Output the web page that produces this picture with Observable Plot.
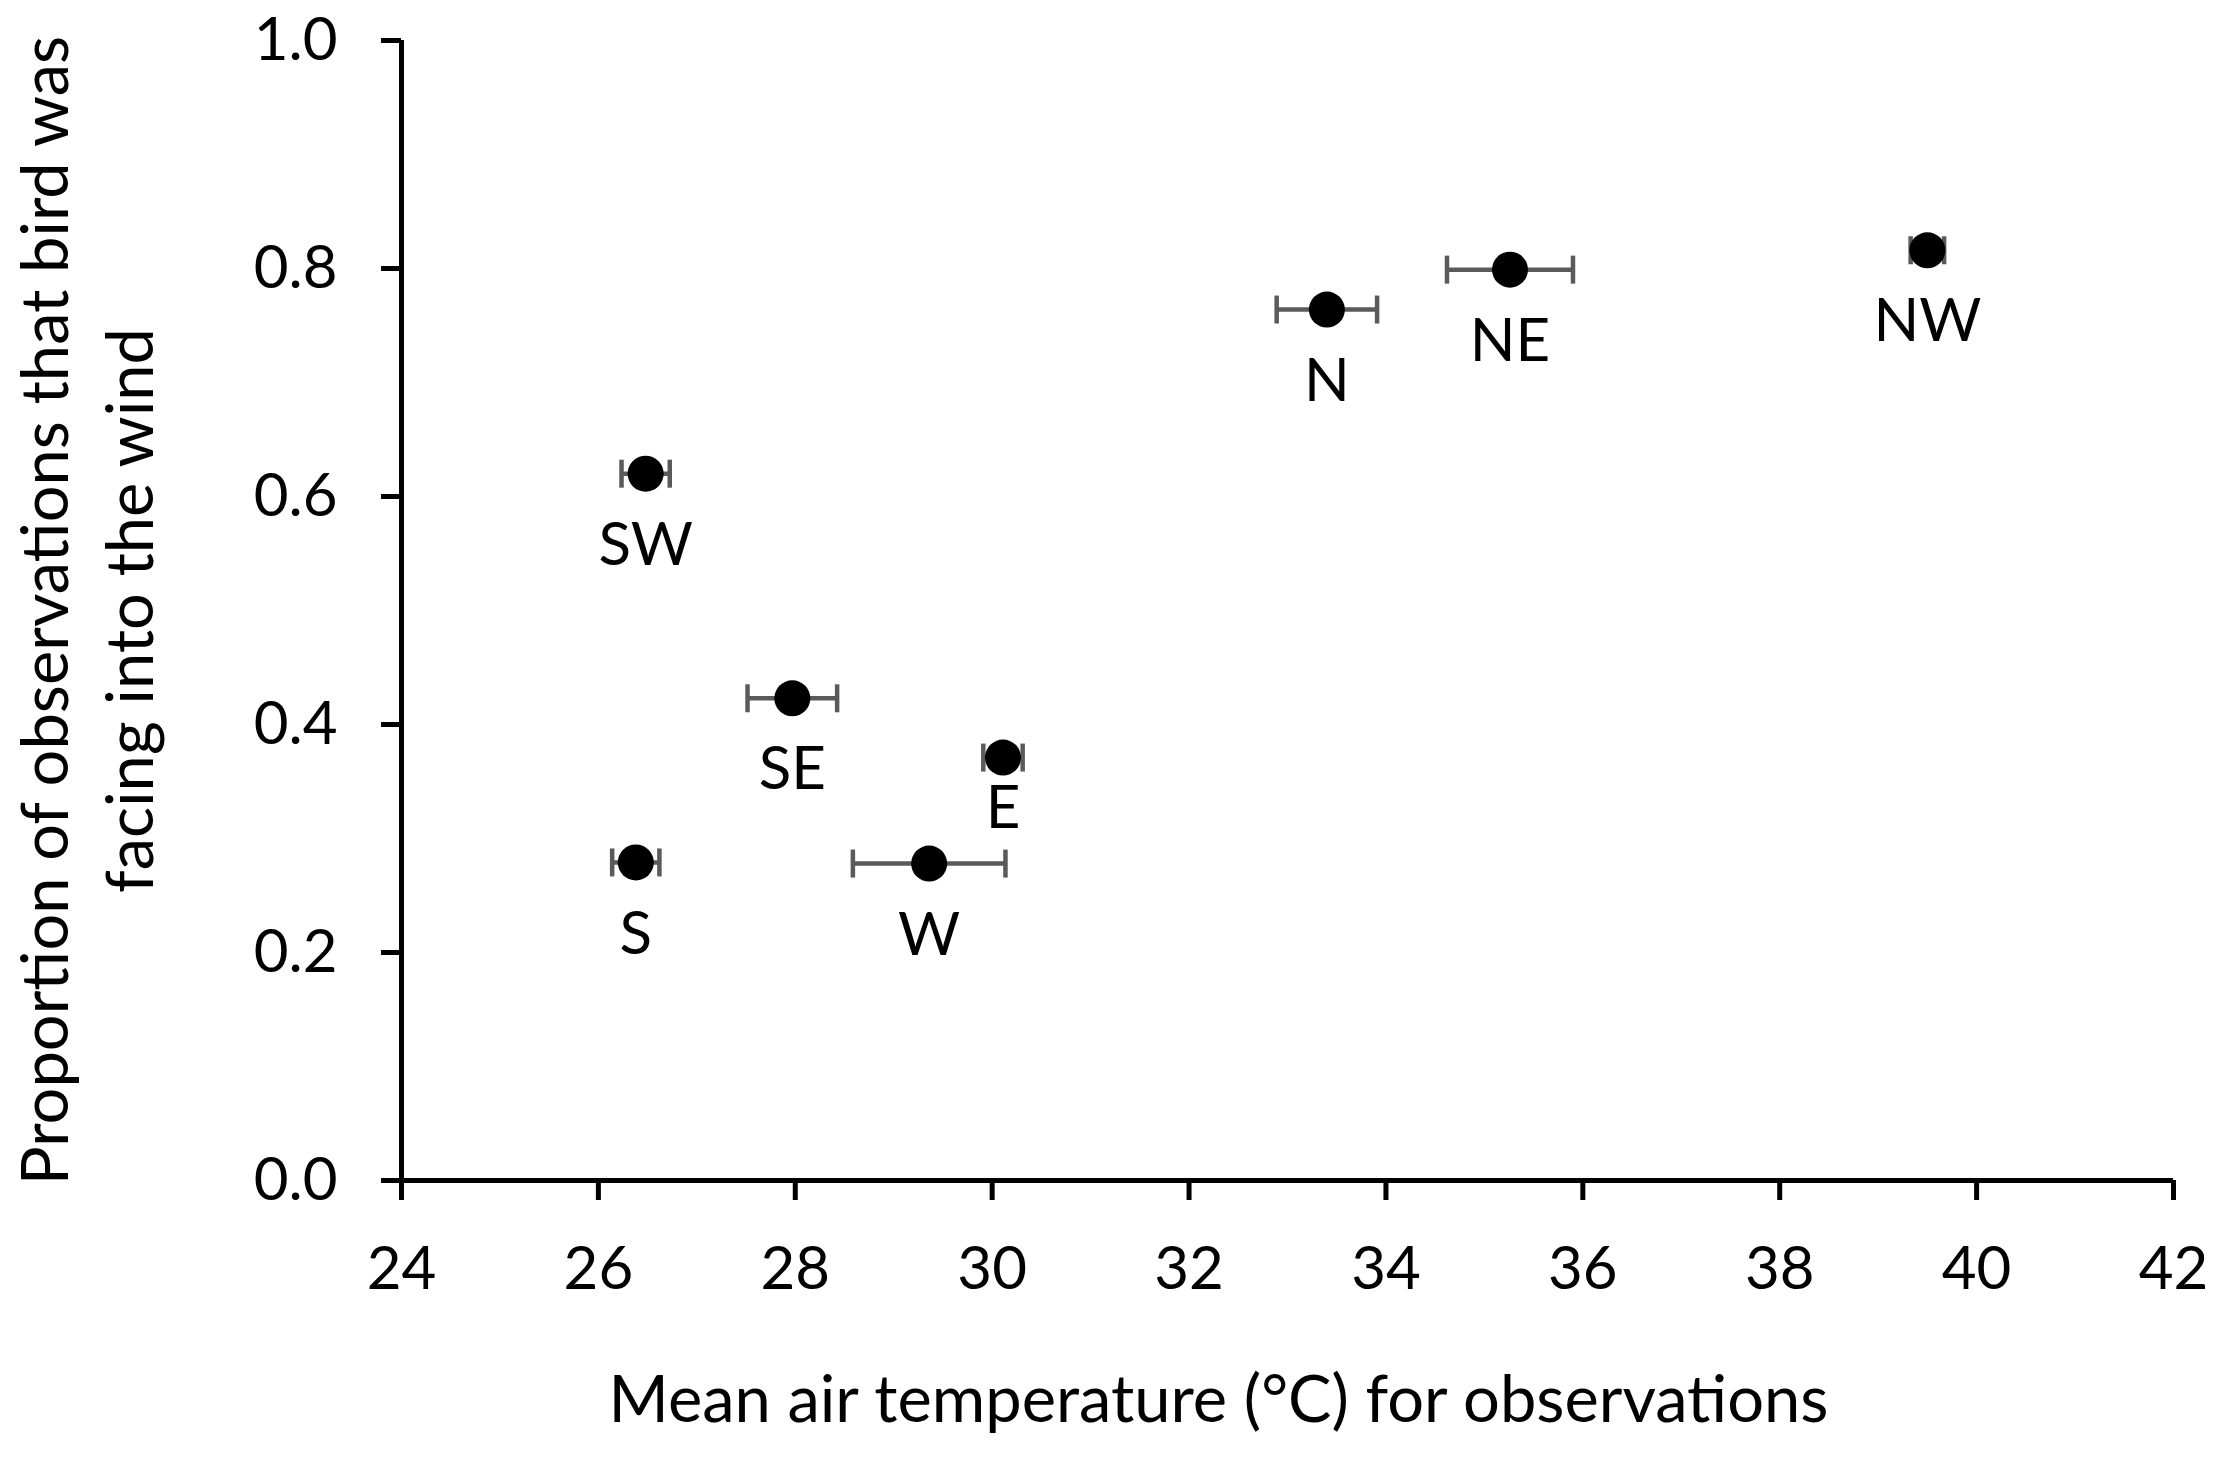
<!DOCTYPE html>
<html>
<head>
<meta charset="utf-8">
<script src="https://cdn.jsdelivr.net/npm/d3@7"></script>
<script src="https://cdn.jsdelivr.net/npm/@observablehq/plot@0.6"></script>
<style>
  html, body { margin: 0; padding: 0; background: #fff; }
  svg { display: block; }
</style>
</head>
<body>
<div id="chart"></div>
<script>
// Wind direction categories
const directions = ["N", "NE", "E", "SE", "S", "SW", "W", "NW"];
// Mean air temperature (°C) per direction
const meanTemps = [33.40, 35.26, 30.11, 27.97, 26.38, 26.48, 29.36, 39.50];
// Error (± °C) on mean temperature
const tempErrors = [0.51, 0.64, 0.20, 0.455, 0.24, 0.245, 0.775, 0.17];
// Proportion of observations facing into the wind
const proportions = [0.764, 0.799, 0.371, 0.423, 0.279, 0.620, 0.278, 0.816];

// Axis ticks
const xTicks = [24, 26, 28, 30, 32, 34, 36, 38, 40, 42];
const yTicks = [0, 0.2, 0.4, 0.6, 0.8, 1.0];

const xTitle = "Mean air temperature (°C) for observations";
const yTitle = "Proportion of observations that bird was\nfacing into the wind";

const data = directions.map((dir, i) => ({
  dir,
  t: meanTemps[i],
  e: tempErrors[i],
  p: proportions[i]
}));

const capSymbol = {
  draw(ctx, size) {
    const h = Math.sqrt(size / Math.PI);
    ctx.moveTo(0, -h);
    ctx.lineTo(0, h);
  }
};

const errColor = "#5a5a5a";

const chart = Plot.plot({
  width: 2217,
  height: 1461,
  marginLeft: 401,
  marginRight: 44,
  marginTop: 40,
  marginBottom: 281,
  style: { fontFamily: "Lato, 'Open Sans', sans-serif", fontSize: "60px", color: "#000", background: "#fff" },
  x: { domain: [24, 42] },
  y: { domain: [0, 1] },
  marks: [
    Plot.axisX({ ticks: xTicks, tickSize: 20, tickPadding: 46, strokeWidth: 5, label: null, tickFormat: d3.format("d") }),
    Plot.axisY({ ticks: yTicks, tickSize: 20, tickPadding: 44, strokeWidth: 5, label: null, tickFormat: d3.format(".1f") }),
    Plot.ruleY([0], { strokeWidth: 5, stroke: "#000" }),
    Plot.ruleX([24], { strokeWidth: 5, stroke: "#000" }),
    // horizontal error bars
    Plot.ruleY(data, { y: "p", x1: d => d.t - d.e, x2: d => d.t + d.e, stroke: errColor, strokeWidth: 4.5 }),
    // caps
    Plot.dot(data, { x: d => d.t - d.e, y: "p", symbol: capSymbol, r: 14, stroke: errColor, strokeWidth: 4.5, fill: "none" }),
    Plot.dot(data, { x: d => d.t + d.e, y: "p", symbol: capSymbol, r: 14, stroke: errColor, strokeWidth: 4.5, fill: "none" }),
    // points
    Plot.dot(data, { x: "t", y: "p", r: 18, fill: "#000", stroke: "none" }),
    // direction labels
    Plot.text(data.filter(d => d.dir !== "E"), { x: "t", y: "p", text: "dir", dy: 72, fontSize: 60, fill: "#000" }),
    Plot.text(data.filter(d => d.dir === "E"), { x: "t", y: "p", text: "dir", dy: 51, fontSize: 60, fill: "#000" }),
    // axis titles
    Plot.text([xTitle], { frameAnchor: "bottom", textAnchor: "middle", dy: 241, dx: -69, fontSize: 65, fill: "#000" }),
    Plot.text([yTitle], { frameAnchor: "left", textAnchor: "middle", dx: -318, rotate: -90, lineHeight: 1.31, fontSize: 65, fill: "#000" })
  ]
});

document.getElementById("chart").appendChild(chart);
</script>
</body>
</html>
